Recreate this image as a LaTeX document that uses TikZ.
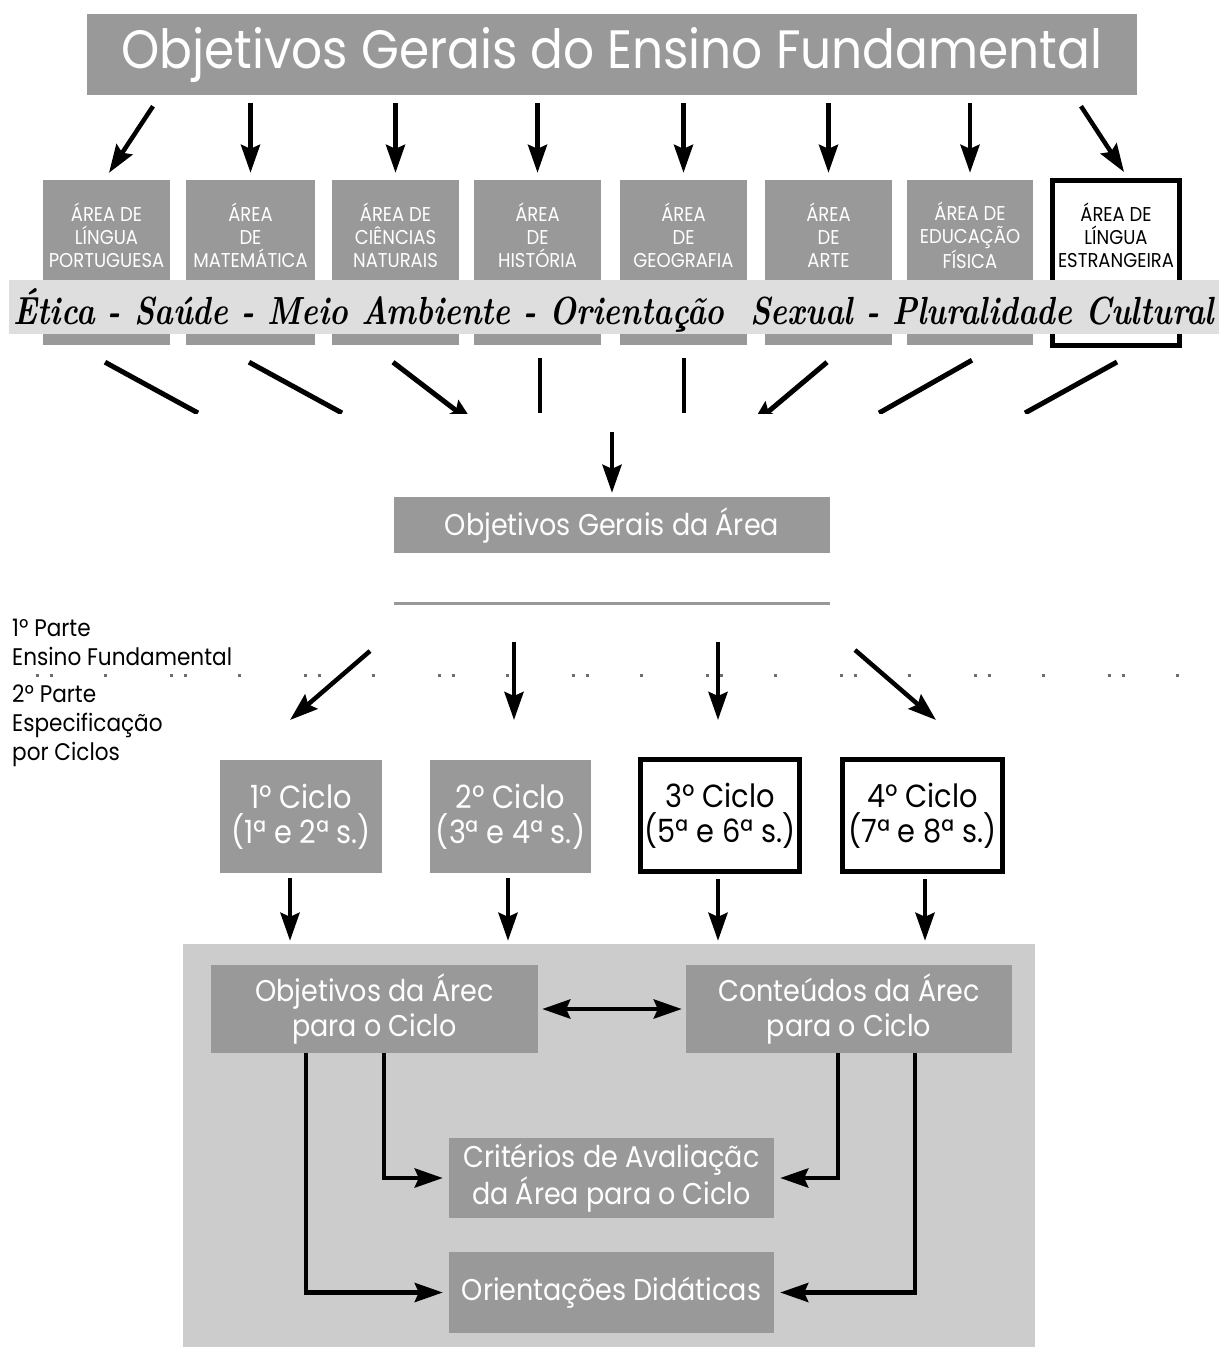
\documentclass[tikz,border=0pt]{standalone}
\usepackage{fontspec}
\setmainfont[FakeStretch=0.9]{Poppins}
\usepackage{graphicx}
\usetikzlibrary{arrows.meta,calc}
\definecolor{boxgray}{RGB}{153,153,153}
\definecolor{bggray}{RGB}{204,204,204}
\definecolor{bandgray}{RGB}{222,222,222}
\definecolor{dotgray}{RGB}{110,110,110}
\tikzset{
  gbox/.style={fill=boxgray, draw=none, inner sep=0pt},
  wbox/.style={fill=white, draw=black, line width=5pt, inner sep=0pt},
  areatxt/.style={align=center, text=white, inner sep=0pt, font=\fontsize{20}{23}\selectfont},
  tip/.tip={Stealth[length=28pt,width=19pt,inset=4pt]},
  arr/.style={line width=4.5pt, -tip},
  conv/.style={line width=5pt},
  convthin/.style={line width=3.5pt},
}
\begin{document}
\begin{tikzpicture}[x=1pt,y=-1pt]
\useasboundingbox (0,0) rectangle (1219,1347);
% title
\node[gbox, minimum width=1050pt, minimum height=81pt, text=white, font=\fontsize{54}{60}\selectfont] (title) at (612,54.5) {Objetivos Gerais do Ensino Fundamental};
% area boxes
\node[gbox, minimum width=127pt, minimum height=165pt] (a1) at (106.5,262.5) {};
\node[gbox, minimum width=129pt, minimum height=165pt] (a2) at (250.5,262.5) {};
\node[gbox, minimum width=127pt, minimum height=165pt] (a3) at (395.5,262.5) {};
\node[gbox, minimum width=127pt, minimum height=165pt] (a4) at (537.5,262.5) {};
\node[gbox, minimum width=127pt, minimum height=165pt] (a5) at (683.5,262.5) {};
\node[gbox, minimum width=127pt, minimum height=165pt] (a6) at (828.5,262.5) {};
\node[gbox, minimum width=126pt, minimum height=165pt] (a7) at (970,262.5) {};
\node[wbox, minimum width=127pt, minimum height=165pt] (a8) at (1116,263) {};
\node[areatxt] (t1) at (106.5,235) {ÁREA DE\\LÍNGUA\\PORTUGUESA};
\node[areatxt] (t2) at (250.5,235) {ÁREA\\DE\\MATEMÁTICA};
\node[areatxt] (t3) at (395.5,235) {ÁREA DE\\CIÊNCIAS\\NATURAIS};
\node[areatxt] (t4) at (537.5,235) {ÁREA\\DE\\HISTÓRIA};
\node[areatxt] (t5) at (683.5,235) {ÁREA\\DE\\GEOGRAFIA};
\node[areatxt] (t6) at (828.5,235) {ÁREA\\DE\\ARTE};
\node[areatxt] (t7) at (970,235) {ÁREA DE\\EDUCAÇÃO\\FÍSICA};
\node[areatxt, text=black] (t8) at (1116,235) {ÁREA DE\\LÍNGUA\\ESTRANGEIRA};
% band
\node[fill=bandgray, minimum width=1210pt, minimum height=54pt, inner sep=0pt] (band) at (614,307) {};
\node[inner sep=0pt] (bandtxt) at (614,310) {\resizebox{1200pt}{36pt}{\fontspec{Latin Modern Roman}\bfseries\itshape Ética - Saúde - Meio Ambiente - Orientação\ \ Sexual - Pluralidade Cultural}};
% arrows title -> areas
\draw[arr] ([xshift=-459pt,yshift=-11pt]title.south) -- ([xshift=2.5pt,yshift=7pt]a1.north);
\foreach \n in {a2,a3,a4,a5,a6,a7}{
  \draw[arr, shorten <=8pt, shorten >=7pt] (\n.north |- title.south) -- (\n.north);
}
\draw[arr] ([xshift=469pt,yshift=-11pt]title.south) -- ([xshift=8pt,yshift=6pt]a8.north);
% converging lines (cut off)
\coordinate (e1) at (198,413);
\coordinate (e2) at (342,413);
\coordinate (e3) at (475,425);
\coordinate (e4) at (540,413);
\coordinate (e5) at (684,413);
\coordinate (e6) at (750,427);
\coordinate (e7) at (879,413);
\coordinate (e8) at (1025,413);
\begin{scope}
\clip (0,340) rectangle (1219,413);
\draw[conv] ([xshift=-1.5pt,yshift=-17pt]a1.south) -- (e1);
\draw[conv] ([xshift=-1.5pt,yshift=-17pt]a2.south) -- (e2);
\draw[conv, -tip] ([xshift=-2.5pt,yshift=-17pt]a3.south) -- (e3);
\draw[convthin] ([xshift=2.5pt,yshift=-13pt]a4.south) -- (e4);
\draw[convthin] ([xshift=0.5pt,yshift=-13pt]a5.south) -- (e5);
\draw[conv, -tip] ([xshift=-1.5pt,yshift=-17pt]a6.south) -- (e6);
\draw[conv] ([xshift=2pt,yshift=-15pt]a7.south) -- (e7);
\draw[conv] ([xshift=1pt,yshift=-14pt]a8.south) -- (e8);
\end{scope}
% objetivos gerais da area
\node[gbox, minimum width=436pt, minimum height=56pt, text=white, font=\fontsize{30}{34}\selectfont] (oga) at (612,525) {Objetivos Gerais da Área};
\coordinate (og) at (612,432);
\draw[arr] (og) -- ([yshift=4pt]oga.north);
% separator line
\coordinate (l1) at (394,603);
\coordinate (l2) at (830,603);
\draw[boxgray, line width=3pt] (l1) -- (l2);
% left labels
\node[anchor=west, align=left, inner sep=0pt, font=\fontsize{24}{29}\selectfont] (p1) at (12,642.5) {1º Parte\\Ensino Fundamental};
\node[anchor=west, align=left, inner sep=0pt, font=\fontsize{24}{29}\selectfont] (p2) at (12,726) {2º Parte\\Especificação\\por Ciclos};
% dotted line
\coordinate (d1) at (36,675);
\coordinate (d2) at (1205,675);
\draw[dotgray, line width=3pt, dash pattern=on 3pt off 10.5pt on 3pt off 51.5pt on 3pt off 63pt] (d1) -- (d2);
% ciclo boxes
\node[gbox, minimum width=162pt, minimum height=113pt, text=white, align=center, font=\fontsize{32}{35}\selectfont] (c1) at (301,816.5) {1º Ciclo\\(1ª e 2ª s.)};
\node[gbox, minimum width=161pt, minimum height=113pt, text=white, align=center, font=\fontsize{32}{35}\selectfont] (c2) at (510.5,816.5) {2º Ciclo\\(3ª e 4ª s.)};
\node[wbox, minimum width=159pt, minimum height=112pt, align=center, font=\fontsize{32}{35}\selectfont] (c3) at (720,815.5) {3º Ciclo\\(5ª e 6ª s.)};
\node[wbox, minimum width=160pt, minimum height=112pt, align=center, font=\fontsize{32}{35}\selectfont] (c4) at (922.5,815.5) {4º Ciclo\\(7ª e 8ª s.)};
% arrows to ciclos
\coordinate (s1) at (370,651); \coordinate (f1) at (290,720);
\coordinate (s2) at (514,642); \coordinate (f2) at (514,720);
\coordinate (s3) at (718,642); \coordinate (f3) at (718,720);
\coordinate (s4) at (855,650); \coordinate (f4) at (936,720);
\draw[arr] (s1) -- (f1);
\draw[arr] (s2) -- (f2);
\draw[arr] (s3) -- (f3);
\draw[arr] (s4) -- (f4);
% background
\node[fill=bggray, minimum width=852pt, minimum height=403pt, inner sep=0pt] (bg) at (609,1145.5) {};
% arrows from ciclos
\draw[arr, shorten <=5pt, shorten >=3pt] ([xshift=-11pt]c1.south) -- ([xshift=-11pt]c1.south |- bg.north);
\draw[arr, shorten <=5pt, shorten >=3pt] ([xshift=-2.5pt]c2.south) -- ([xshift=-2.5pt]c2.south |- bg.north);
\draw[arr, shorten <=5pt, shorten >=3pt] ([xshift=-2pt]c3.south) -- ([xshift=-2pt]c3.south |- bg.north);
\draw[arr, shorten <=5pt, shorten >=3pt] ([xshift=2.5pt]c4.south) -- ([xshift=2.5pt]c4.south |- bg.north);
% bottom boxes
\node[gbox, minimum width=327pt, minimum height=88pt, text=white, align=center, font=\fontsize{30}{35}\selectfont] (oa) at (374.5,1009) {Objetivos da Árec\\para o Ciclo};
\node[gbox, minimum width=326pt, minimum height=88pt, text=white, align=center, font=\fontsize{30}{35}\selectfont] (ca) at (849,1009) {Conteúdos da Árec\\para o Ciclo};
\node[gbox, minimum width=325pt, minimum height=80pt, text=white, align=center, font=\fontsize{30}{35}\selectfont] (cr) at (611.5,1178) {Critérios de Avaliaçãc\\da Área para o Ciclo};
\node[gbox, minimum width=325pt, minimum height=81pt, text=white, align=center, font=\fontsize{30}{35}\selectfont] (or) at (611.5,1292.5) {Orientações Didáticas};
% connectors
\draw[line width=4.5pt, tip-tip, shorten <=4pt, shorten >=4pt] (oa.east) -- (ca.west);
\draw[arr, shorten >=6pt] ([xshift=-68.5pt]oa.south) |- (or.west);
\draw[arr, shorten >=6pt] ([xshift=9.5pt]oa.south) |- (cr.west);
\draw[arr, shorten >=6pt] ([xshift=-11pt]ca.south) |- (cr.east);
\draw[arr, shorten >=6pt] ([xshift=66pt]ca.south) |- (or.east);
\end{tikzpicture}
\end{document}
